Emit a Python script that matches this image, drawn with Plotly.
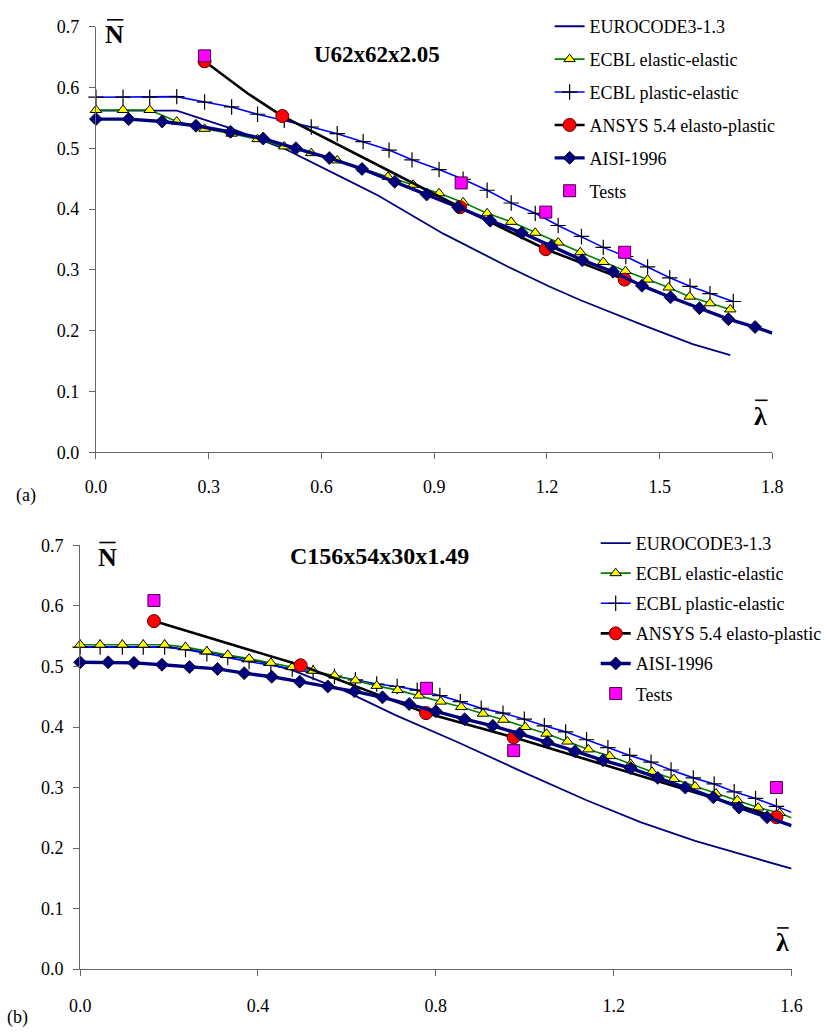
import plotly.graph_objects as go

W, H = 827, 1036
FONT = "Liberation Serif"

# ---------------- (a) U62x62x2.05 ----------------
a_euro_x = [0, 0.215, 0.353, 0.506, 0.668, 0.752, 0.923, 1.094, 1.205, 1.29, 1.461, 1.588, 1.688]
a_euro_y = [0.562, 0.562, 0.534, 0.498, 0.448, 0.422, 0.360, 0.306, 0.273, 0.250, 0.208, 0.178, 0.160]

a_el_x = [0, 0.072, 0.143, 0.215, 0.289, 0.361, 0.43, 0.501, 0.573, 0.642, 0.711, 0.777, 0.844,
          0.913, 0.977, 1.041, 1.105, 1.169, 1.230, 1.289, 1.35, 1.409, 1.468, 1.524, 1.58, 1.634, 1.688]
a_el_y = [0.563, 0.563, 0.563, 0.544, 0.532, 0.524, 0.515, 0.503, 0.492, 0.480, 0.466, 0.453, 0.440,
          0.426, 0.411, 0.393, 0.379, 0.361, 0.345, 0.329, 0.313, 0.298, 0.284, 0.271, 0.256, 0.245, 0.235]

a_pl_x = [0, 0.072, 0.143, 0.215, 0.289, 0.361, 0.43, 0.501, 0.573, 0.642, 0.711, 0.78, 0.841,
          0.913, 0.977, 1.041, 1.105, 1.169, 1.230, 1.292, 1.35, 1.41, 1.468, 1.527, 1.581, 1.634, 1.696]
a_pl_y = [0.584, 0.584, 0.584, 0.585, 0.576, 0.568, 0.556, 0.546, 0.535, 0.524, 0.511, 0.497, 0.481,
          0.465, 0.449, 0.431, 0.410, 0.393, 0.373, 0.355, 0.337, 0.322, 0.305, 0.287, 0.273, 0.261, 0.248]

a_ans_x = [0.289, 0.404, 0.496, 0.969, 1.197, 1.407]
a_ans_y = [0.643, 0.590, 0.553, 0.403, 0.334, 0.284]
a_ans_marked = [True, False, True, True, True, True]

a_aisi_x = [0, 0.087, 0.176, 0.266, 0.358, 0.445, 0.532, 0.621, 0.708, 0.795, 0.880, 0.964,
            1.049, 1.133, 1.212, 1.294, 1.376, 1.453, 1.529, 1.606, 1.683, 1.754, 1.8]
a_aisi_y = [0.548, 0.548, 0.544, 0.537, 0.527, 0.516, 0.500, 0.484, 0.466, 0.445, 0.424, 0.403,
            0.381, 0.361, 0.339, 0.316, 0.297, 0.274, 0.255, 0.237, 0.219, 0.206, 0.196]

a_test_x = [0.289, 0.972, 1.197, 1.407]
a_test_y = [0.652, 0.443, 0.395, 0.329]

# ---------------- (b) C156x54x30x1.49 ----------------
b_euro_x = [0, 0.2, 0.3, 0.4, 0.477, 0.6, 0.708, 0.772, 0.852, 0.995, 1.139, 1.26, 1.383, 1.5, 1.6]
b_euro_y = [0.532, 0.532, 0.522, 0.509, 0.494, 0.458, 0.420, 0.400, 0.374, 0.326, 0.279, 0.243, 0.212, 0.187, 0.166]

b_el_x = [0, 0.045, 0.095, 0.142, 0.19, 0.237, 0.285, 0.332, 0.38, 0.429, 0.477, 0.524, 0.572, 0.619,
          0.667, 0.714, 0.762, 0.811, 0.857, 0.906, 0.952, 1.001, 1.049, 1.096, 1.143, 1.191, 1.238,
          1.286, 1.335, 1.383, 1.430, 1.478, 1.525, 1.573, 1.6]
b_el_y = [0.536, 0.536, 0.536, 0.536, 0.536, 0.532, 0.525, 0.519, 0.513, 0.506, 0.499, 0.493, 0.485, 0.477,
          0.468, 0.461, 0.452, 0.442, 0.433, 0.422, 0.412, 0.400, 0.389, 0.376, 0.363, 0.352, 0.339,
          0.326, 0.314, 0.302, 0.290, 0.279, 0.267, 0.258, 0.250]

b_pl_x = [0, 0.045, 0.095, 0.142, 0.19, 0.237, 0.285, 0.332, 0.38, 0.429, 0.477, 0.524, 0.572, 0.619,
          0.667, 0.713, 0.758, 0.809, 0.855, 0.902, 0.951, 0.999, 1.044, 1.092, 1.139, 1.187, 1.236,
          1.284, 1.329, 1.379, 1.426, 1.471, 1.519, 1.566, 1.6]
b_pl_y = [0.532, 0.532, 0.532, 0.532, 0.532, 0.528, 0.521, 0.515, 0.508, 0.502, 0.496, 0.490, 0.484, 0.478,
          0.471, 0.467, 0.461, 0.452, 0.442, 0.431, 0.423, 0.413, 0.402, 0.392, 0.379, 0.366, 0.353,
          0.342, 0.329, 0.316, 0.306, 0.293, 0.282, 0.269, 0.259]

b_ans_x = [0.166, 0.496, 0.778, 0.975, 1.566]
b_ans_y = [0.575, 0.502, 0.423, 0.383, 0.251]

b_aisi_x = [0, 0.063, 0.121, 0.184, 0.246, 0.309, 0.369, 0.431, 0.494, 0.557, 0.617, 0.680, 0.74,
            0.800, 0.865, 0.928, 0.988, 1.051, 1.113, 1.176, 1.238, 1.299, 1.361, 1.424, 1.482, 1.545, 1.6]
b_aisi_y = [0.507, 0.507, 0.506, 0.503, 0.499, 0.496, 0.489, 0.483, 0.475, 0.467, 0.459, 0.449, 0.438,
            0.426, 0.413, 0.402, 0.389, 0.375, 0.360, 0.345, 0.332, 0.316, 0.300, 0.284, 0.267, 0.251, 0.237]

b_test_x = [0.166, 0.779, 0.975, 1.566]
b_test_y = [0.609, 0.464, 0.361, 0.300]

y_ticks = [0.0, 0.1, 0.2, 0.3, 0.4, 0.5, 0.6, 0.7]
a_x_ticks = [0.0, 0.3, 0.6, 0.9, 1.2, 1.5, 1.8]
b_x_ticks = [0.0, 0.4, 0.8, 1.2, 1.6]

NAMES = ["EUROCODE3-1.3", "ECBL elastic-elastic", "ECBL plastic-elastic",
         "ANSYS 5.4 elasto-plastic", "AISI-1996", "Tests"]

NAVY, GREEN, BLUE, BLACK, RED, YELLOW, MAGENTA = (
    "#000080", "#008000", "#0000FF", "#000000", "#FF0000", "#FFFF00", "#FF00FF")
CLEAR = "rgba(0,0,0,0)"


def per_point(n, colour, hidden):
    """Colour list that hides markers at the given indices (line keeps running through)."""
    return [CLEAR if i in hidden else colour for i in range(n)]


def add_panel(fig, xa, ya, leg, euro, el, pl, ans, ans_hidden, aisi, aisi_hidden,
              el_hidden, pl_hidden, tests):
    common = dict(xaxis=xa, yaxis=ya, legend=leg, mode="lines+markers", cliponaxis=False)

    fig.add_trace(go.Scatter(x=euro[0], y=euro[1], name=NAMES[0], mode="lines",
                             xaxis=xa, yaxis=ya, legend=leg, legendgroup=leg + "0", legendrank=1,
                             line=dict(color=NAVY, width=1.8)))
    n = len(pl[0])
    fig.add_trace(go.Scatter(x=pl[0], y=pl[1], name=NAMES[2], legendgroup=leg + "2", legendrank=3,
                             line=dict(color=BLUE, width=1.6),
                             marker=dict(symbol="cross-thin-open", size=11,
                                         color=per_point(n, BLACK, pl_hidden),
                                         line=dict(width=1.2, color=per_point(n, BLACK, pl_hidden))),
                             **common))
    n = len(el[0])
    fig.add_trace(go.Scatter(x=el[0], y=el[1], name=NAMES[1], legendgroup=leg + "1", legendrank=2,
                             line=dict(color=GREEN, width=1.6),
                             marker=dict(symbol="triangle-up", size=10,
                                         color=per_point(n, YELLOW, el_hidden),
                                         line=dict(width=1, color=per_point(n, BLACK, el_hidden))),
                             **common))
    n = len(ans[0])
    fig.add_trace(go.Scatter(x=ans[0], y=ans[1], name=NAMES[3], legendgroup=leg + "3", legendrank=4,
                             line=dict(color=BLACK, width=2.6),
                             marker=dict(symbol="circle", size=13,
                                         color=per_point(n, RED, ans_hidden),
                                         line=dict(width=1, color=per_point(n, "#600000", ans_hidden))),
                             **common))
    n = len(aisi[0])
    fig.add_trace(go.Scatter(x=aisi[0], y=aisi[1], name=NAMES[4], legendgroup=leg + "4", legendrank=5,
                             line=dict(color=NAVY, width=3.4),
                             marker=dict(symbol="diamond", size=10,
                                         color=per_point(n, NAVY, aisi_hidden),
                                         line=dict(width=0.8, color=per_point(n, BLACK, aisi_hidden))),
                             **common))
    fig.add_trace(go.Scatter(x=tests[0], y=tests[1], name=NAMES[5], mode="markers",
                             xaxis=xa, yaxis=ya, legend=leg, legendgroup=leg + "5", legendrank=6,
                             cliponaxis=False,
                             marker=dict(symbol="square", size=12, color=MAGENTA,
                                         line=dict(width=1, color="#400040"))))


fig = go.Figure()

add_panel(fig, "x", "y", "legend",
          (a_euro_x, a_euro_y), (a_el_x, a_el_y), (a_pl_x, a_pl_y),
          (a_ans_x, a_ans_y), {i for i, m in enumerate(a_ans_marked) if not m},
          (a_aisi_x, a_aisi_y), {len(a_aisi_x) - 1},
          set(), set(), (a_test_x, a_test_y))

add_panel(fig, "x2", "y2", "legend2",
          (b_euro_x, b_euro_y), (b_el_x, b_el_y), (b_pl_x, b_pl_y),
          (b_ans_x, b_ans_y), set(),
          (b_aisi_x, b_aisi_y), {len(b_aisi_x) - 1},
          {len(b_el_x) - 1}, {len(b_pl_x) - 1}, (b_test_x, b_test_y))


# page pixel -> paper fraction
def px_x(p):
    return p / W


def px_y(p):
    return 1 - p / H


tick_font = dict(family=FONT, size=18, color="black")
axis_common = dict(showgrid=False, zeroline=False, showline=True, linecolor="#666666",
                   linewidth=1.2, ticks="outside", ticklen=6, tickcolor="#666666",
                   tickwidth=1.2, tickfont=tick_font, tickformat=".1f", fixedrange=True)

legend_common = dict(font=dict(family=FONT, size=18, color="black"), bgcolor=CLEAR,
                     xanchor="left", yanchor="top", itemclick=False, itemdoubleclick=False,
                     traceorder="grouped")

fig.update_layout(
    width=W, height=H, margin=dict(l=0, r=0, t=0, b=0),
    paper_bgcolor="white", plot_bgcolor="white",
    font=dict(family=FONT, size=18, color="black"),
    xaxis=dict(domain=[px_x(88.5), px_x(793)], range=[0, 1.8], tickvals=a_x_ticks,
               anchor="y", ticklabelstandoff=12, **axis_common),
    yaxis=dict(domain=[px_y(451), px_y(17)], range=[0, 0.7], tickvals=y_ticks,
               anchor="x", ticklabelstandoff=6, **axis_common),
    xaxis2=dict(domain=[px_x(72), px_x(813)], range=[0, 1.6], tickvals=b_x_ticks,
                anchor="y2", ticklabelstandoff=14, **axis_common),
    yaxis2=dict(domain=[px_y(978), px_y(546)], range=[0, 0.7], tickvals=y_ticks,
                anchor="x2", ticklabelstandoff=6, **axis_common),
    legend=dict(x=px_x(561), y=px_y(-2), tracegroupgap=6.5, **legend_common),
    legend2=dict(x=px_x(609), y=px_y(525), tracegroupgap=3.7, **legend_common),
    showlegend=True,
)

# Chart titles
fig.add_annotation(text="<b>U62x62x2.05</b>", x=px_x(381), y=px_y(45),
                   font=dict(family=FONT, size=23, color="black"))
fig.add_annotation(text="<b>C156x54x30x1.49</b>", x=px_x(384), y=px_y(557),
                   font=dict(family=FONT, size=24, color="black"))

# Axis symbols, each with an overbar
symbol_font = dict(family=FONT, size=26, color="black")
axis_symbols = [
    # text, centre x, centre y, bar x0, bar x1, bar y
    ("N", 108, 25, 100, 117, 10),
    ("N", 100, 558, 92, 109, 543),
    ("\u03bb", 781, 414, 775, 788, 398),
    ("\u03bb", 804, 951, 798, 810, 936),
]
for txt, cx, cy, bx0, bx1, by in axis_symbols:
    fig.add_annotation(text=f"<b>{txt}</b>", x=px_x(cx), y=px_y(cy), font=symbol_font)
    fig.add_shape(type="line", xref="paper", yref="paper",
                  x0=px_x(bx0), x1=px_x(bx1), y0=px_y(by), y1=px_y(by),
                  line=dict(color="black", width=1.6))

fig.update_annotations(xref="paper", yref="paper", showarrow=False,
                       xanchor="center", yanchor="middle")

fig.add_annotation(text="(a)", xref="paper", yref="paper", x=px_x(3), y=px_y(495),
                   xanchor="left", yanchor="middle", showarrow=False,
                   font=dict(family=FONT, size=18, color="black"))
fig.add_annotation(text="(b)", xref="paper", yref="paper", x=px_x(-6), y=px_y(1027),
                   xanchor="left", yanchor="middle", showarrow=False,
                   font=dict(family=FONT, size=18, color="black"))

fig.write_html("out.html")
